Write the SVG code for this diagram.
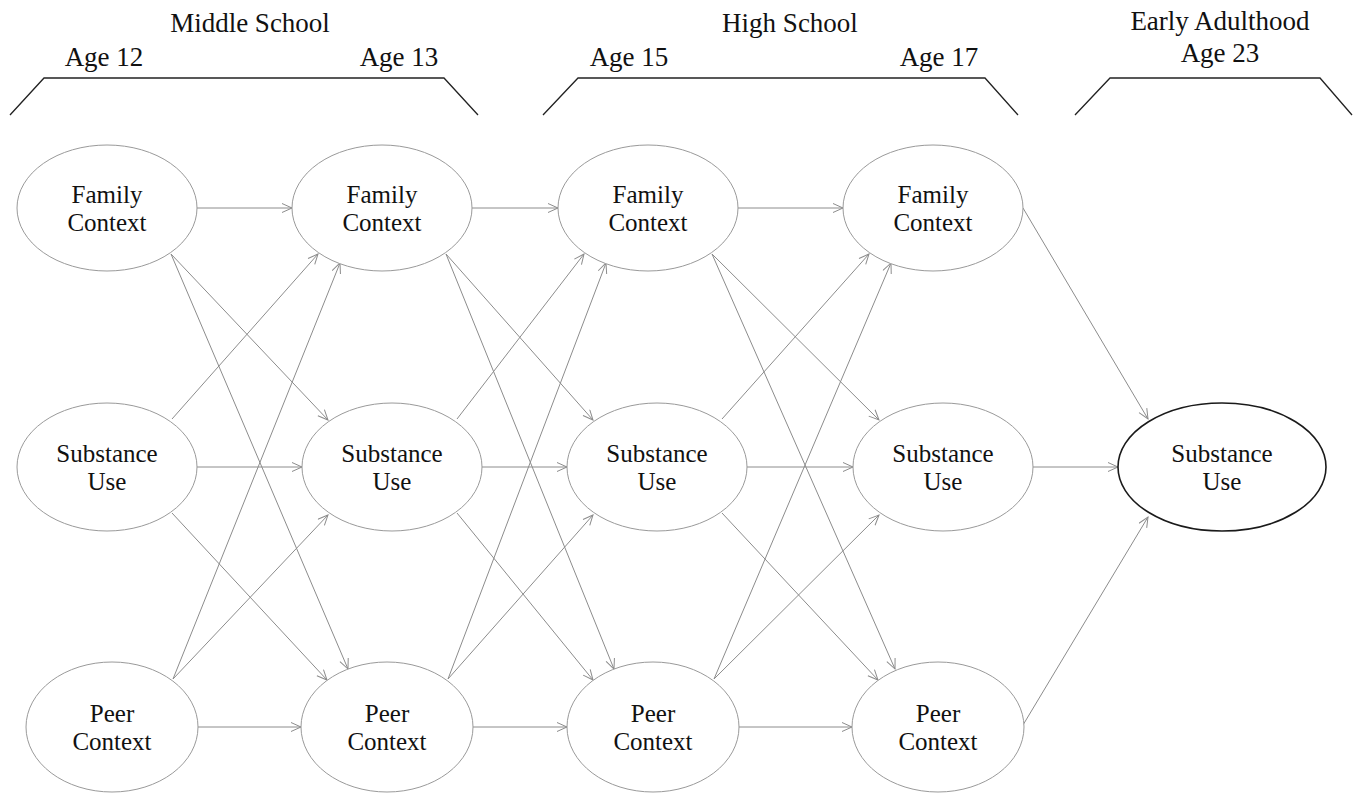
<svg xmlns="http://www.w3.org/2000/svg" width="1360" height="796" viewBox="0 0 1360 796">
<style>
text{font-family:"Liberation Serif","Times New Roman",serif;fill:#111;text-anchor:middle}
.hdr{font-size:27px}
.lbl{font-size:25px}
.node{fill:#fff;stroke:#9a9a9a;stroke-width:1}
.final{fill:#fff;stroke:#1a1a1a;stroke-width:1.6}
.br{fill:none;stroke:#222;stroke-width:1.3}
.c line{stroke:#8c8c8c;stroke-width:1;marker-end:url(#ah)}
</style>
<defs>
<marker id="ah" markerUnits="userSpaceOnUse" markerWidth="14" markerHeight="12" refX="11" refY="5" orient="auto">
<path d="M1,0.5 L11,5 L1,9.5" fill="none" stroke="#8c8c8c" stroke-width="1"/>
</marker>
</defs>
<rect width="1360" height="796" fill="#fff"/>
<g id="headers">
<text class="hdr" x="250" y="32">Middle School</text>
<text class="hdr" x="104" y="66">Age 12</text>
<text class="hdr" x="399" y="66">Age 13</text>
<text class="hdr" x="790" y="32">High School</text>
<text class="hdr" x="629" y="66">Age 15</text>
<text class="hdr" x="939" y="66">Age 17</text>
<text class="hdr" x="1220" y="30">Early Adulthood</text>
<text class="hdr" x="1220" y="62">Age 23</text>
<polyline class="br" points="10,115 44,78 444,78 478,115"/>
<polyline class="br" points="543,115 578,78 985,78 1018,115"/>
<polyline class="br" points="1075,115 1110,78 1320,78 1352,115"/>
</g>
<g id="connectors" class="c">
<line x1="197" y1="208" x2="292" y2="208"/>
<line x1="171" y1="254" x2="328" y2="420"/>
<line x1="171" y1="254" x2="348" y2="669"/>
<line x1="172" y1="419" x2="318" y2="254"/>
<line x1="197" y1="467" x2="302" y2="467"/>
<line x1="172" y1="513" x2="327" y2="680"/>
<line x1="173" y1="679" x2="340" y2="263"/>
<line x1="173" y1="679" x2="328" y2="515"/>
<line x1="198" y1="727" x2="301" y2="727"/>
<line x1="472" y1="208" x2="558" y2="208"/>
<line x1="446" y1="254" x2="593" y2="420"/>
<line x1="446" y1="254" x2="614" y2="669"/>
<line x1="457" y1="419" x2="584" y2="254"/>
<line x1="482" y1="467" x2="567" y2="467"/>
<line x1="457" y1="513" x2="593" y2="680"/>
<line x1="448" y1="679" x2="606" y2="263"/>
<line x1="448" y1="679" x2="593" y2="515"/>
<line x1="473" y1="727" x2="567" y2="727"/>
<line x1="738" y1="208" x2="843" y2="208"/>
<line x1="712" y1="254" x2="879" y2="420"/>
<line x1="712" y1="254" x2="895" y2="669"/>
<line x1="722" y1="419" x2="869" y2="254"/>
<line x1="747" y1="467" x2="853" y2="467"/>
<line x1="722" y1="513" x2="878" y2="680"/>
<line x1="714" y1="679" x2="891" y2="263"/>
<line x1="714" y1="679" x2="879" y2="515"/>
<line x1="739" y1="727" x2="852" y2="727"/>
<line x1="1023" y1="208" x2="1148" y2="419"/>
<line x1="1033" y1="467" x2="1118" y2="467"/>
<line x1="1023" y1="725" x2="1148" y2="517"/>
</g>
<g id="f12"><ellipse class="node" cx="107" cy="208" rx="90" ry="63"/><text class="lbl" x="107" y="203">Family</text><text class="lbl" x="107" y="231">Context</text></g>
<g id="s12"><ellipse class="node" cx="107" cy="467" rx="90" ry="64"/><text class="lbl" x="107" y="462">Substance</text><text class="lbl" x="107" y="490">Use</text></g>
<g id="p12"><ellipse class="node" cx="112" cy="727" rx="86" ry="65"/><text class="lbl" x="112" y="722">Peer</text><text class="lbl" x="112" y="750">Context</text></g>
<g id="f13"><ellipse class="node" cx="382" cy="208" rx="90" ry="63"/><text class="lbl" x="382" y="203">Family</text><text class="lbl" x="382" y="231">Context</text></g>
<g id="s13"><ellipse class="node" cx="392" cy="467" rx="90" ry="64"/><text class="lbl" x="392" y="462">Substance</text><text class="lbl" x="392" y="490">Use</text></g>
<g id="p13"><ellipse class="node" cx="387" cy="727" rx="86" ry="65"/><text class="lbl" x="387" y="722">Peer</text><text class="lbl" x="387" y="750">Context</text></g>
<g id="f15"><ellipse class="node" cx="648" cy="208" rx="90" ry="63"/><text class="lbl" x="648" y="203">Family</text><text class="lbl" x="648" y="231">Context</text></g>
<g id="s15"><ellipse class="node" cx="657" cy="467" rx="90" ry="64"/><text class="lbl" x="657" y="462">Substance</text><text class="lbl" x="657" y="490">Use</text></g>
<g id="p15"><ellipse class="node" cx="653" cy="727" rx="86" ry="65"/><text class="lbl" x="653" y="722">Peer</text><text class="lbl" x="653" y="750">Context</text></g>
<g id="f17"><ellipse class="node" cx="933" cy="208" rx="90" ry="63"/><text class="lbl" x="933" y="203">Family</text><text class="lbl" x="933" y="231">Context</text></g>
<g id="s17"><ellipse class="node" cx="943" cy="467" rx="90" ry="64"/><text class="lbl" x="943" y="462">Substance</text><text class="lbl" x="943" y="490">Use</text></g>
<g id="p17"><ellipse class="node" cx="938" cy="727" rx="86" ry="65"/><text class="lbl" x="938" y="722">Peer</text><text class="lbl" x="938" y="750">Context</text></g>
<g id="s23"><ellipse class="final" cx="1222" cy="467" rx="104" ry="64"/><text class="lbl" x="1222" y="462">Substance</text><text class="lbl" x="1222" y="490">Use</text></g>
</svg>
